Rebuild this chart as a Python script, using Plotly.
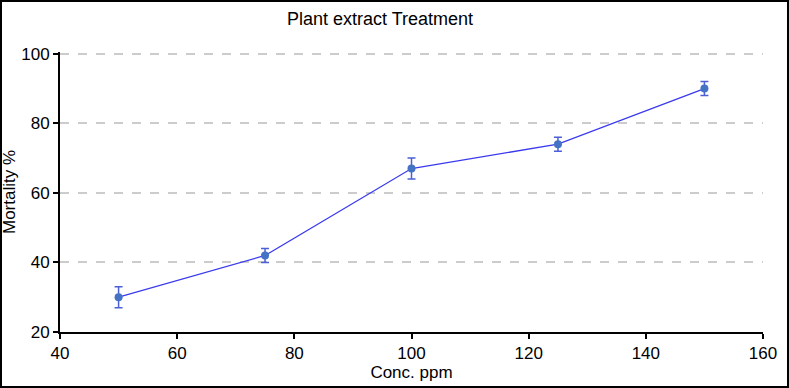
import plotly.graph_objects as go

conc = [50, 75, 100, 125, 150]
mortality = [30, 42, 67, 74, 90]
err = [3, 2, 3, 2, 2]

W, H = 789, 388
L, R, T, B = 60, 26, 52, 56

fig = go.Figure()
fig.add_trace(go.Scatter(
    x=conc, y=mortality, mode="lines+markers",
    line=dict(color="#3a3aef", width=1.3),
    marker=dict(color="#4472c4", size=8),
    error_y=dict(type="data", array=err, visible=True, color="#4a5fd8", thickness=1.5, width=4),
    showlegend=False,
))

pw = W - L - R
ph = H - T - B
fig.add_shape(type="rect", xref="paper", yref="paper",
              x0=(1 - L) / pw, x1=(W - 1 - L) / pw,
              y0=-(H - 1 - T - ph) / ph, y1=1 + (T - 1) / ph,
              line=dict(color="black", width=2), layer="above")

fig.update_layout(
    width=W, height=H,
    margin=dict(l=L, r=R, t=T, b=B, autoexpand=False),
    paper_bgcolor="white", plot_bgcolor="white",
    font=dict(family="Liberation Sans, Arial, sans-serif", size=17, color="black"),
    title=dict(text="Plant extract Treatment", x=(380 - L) / pw, xref="paper", xanchor="center",
               y=1 - 19 / H, yanchor="middle", font=dict(size=18)),
    xaxis=dict(range=[40, 160], dtick=20, showgrid=False, zeroline=False, automargin=False,
               showline=True, linecolor="black", linewidth=2,
               ticks="outside", ticklen=5, tickwidth=1.5, tickcolor="black",
               tickfont=dict(size=17),
               title=dict(text="Conc. ppm", standoff=2, font=dict(size=17))),
    yaxis=dict(range=[20, 100.5], tickvals=[20, 40, 60, 80, 100], zeroline=False, automargin=False,
               showgrid=True, gridcolor="#cccccc", griddash="dash", gridwidth=1.5,
               showline=True, linecolor="black", linewidth=2,
               ticks="outside", ticklen=5, tickwidth=1.5, tickcolor="black",
               tickfont=dict(size=17),
               title=dict(text="Mortality %", standoff=2, font=dict(size=17))),
)

fig.write_html("out.html", config={"displayModeBar": False},
               post_script="document.body.style.margin='0';document.body.style.overflow='hidden';")
